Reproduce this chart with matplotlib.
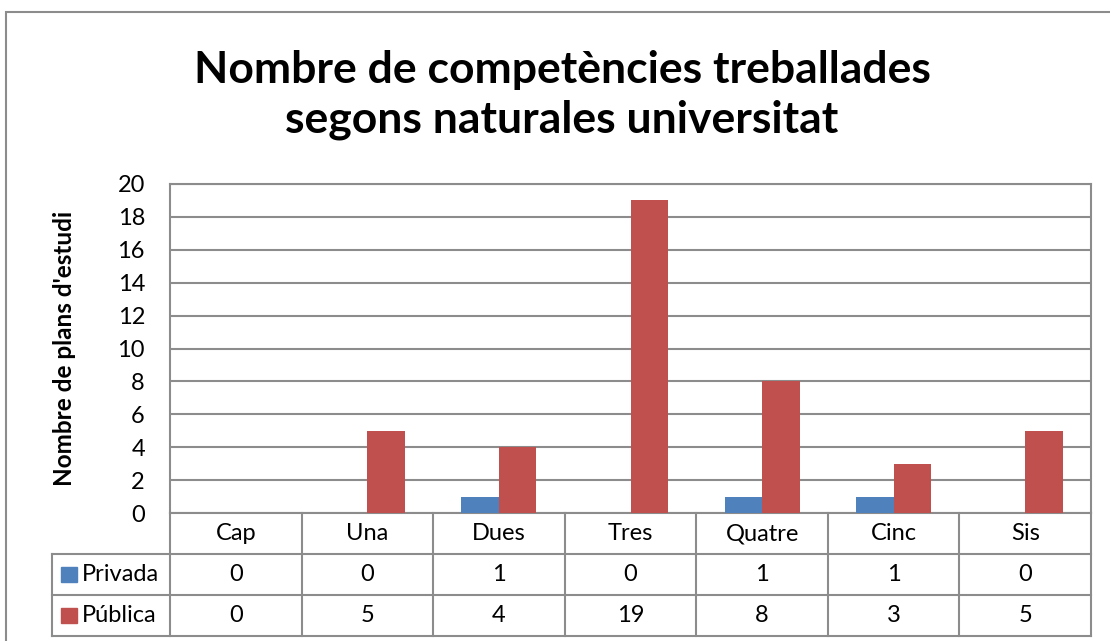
import matplotlib
matplotlib.use("Agg")
import matplotlib.pyplot as plt
from matplotlib.patches import Rectangle
import numpy as np

categories = ["Cap", "Una", "Dues", "Tres", "Quatre", "Cinc", "Sis"]
series_names = ["Privada", "Pública"]
privada = [0, 0, 1, 0, 1, 1, 0]
publica = [0, 5, 4, 19, 8, 3, 5]
colors = ["#4F81BD", "#C0504D"]
grid_col = "#8C8C8C"

plt.rcParams['font.family'] = ['Lato', 'DejaVu Sans']

W, H = 1110, 641
fig = plt.figure(figsize=(W / 100, H / 100), dpi=100)

def fx(px):
    return px / W

def fy(py):
    return 1 - py / H

# outer chart border
fig.patches.append(Rectangle((fx(6), fy(700)), fx(1200), fy(12) - fy(700),
                             transform=fig.transFigure, fill=False,
                             edgecolor=grid_col, lw=1.5))

left, right, top, bottom = 170, 1091, 184, 513
ax = fig.add_axes([fx(left), fy(bottom), fx(right - left), fy(top) - fy(bottom)])

x = np.arange(len(categories))
bw = 0.285
ax.bar(x - bw / 2, privada, bw, color=colors[0], zorder=3)
ax.bar(x + bw / 2, publica, bw, color=colors[1], zorder=3)

ax.set_xlim(-0.5, len(categories) - 0.5)
ax.set_ylim(0, 20)
ax.set_yticks(range(0, 21, 2))
ax.set_xticks([])
ax.tick_params(axis='y', length=0, labelsize=17, pad=18)
ax.yaxis.grid(True, color=grid_col, lw=1.5, zorder=0)
for s in ax.spines.values():
    s.set_color(grid_col)
    s.set_linewidth(1.5)
ax.set_ylabel("Nombre de plans d'estudi", fontsize=17.5, fontweight='bold', labelpad=30)

fig.text(fx(562), fy(95), "Nombre de competències treballades\nsegons naturales universitat",
         ha='center', va='center', fontsize=32, fontweight='bold', linespacing=1.3)

# data table below the plot, sharing the category scale
tbot = 636
tax = fig.add_axes([fx(left), fy(tbot), fx(right - left), fy(bottom) - fy(tbot)], sharex=ax)
tax.set_ylim(3, 0)
tax.axis('off')
unit = (right - left) / len(categories)
xl = -0.5 - (left - 52) / unit
lkw = dict(color=grid_col, lw=1.5, clip_on=False)
for b in np.arange(len(categories) + 1) - 0.5:
    tax.plot([b, b], [0, 3], **lkw)
tax.plot([xl, x[-1] + 0.5], [1, 1], **lkw)
tax.plot([xl, x[-1] + 0.5], [2, 2], **lkw)
tax.plot([xl, x[-1] + 0.5], [3, 3], **lkw)
tax.plot([xl, xl], [1, 3], **lkw)
for i, c in enumerate(categories):
    tax.text(i, 0.5, c, ha='center', va='center', fontsize=17)
for r, vals in enumerate([privada, publica]):
    for i, v in enumerate(vals):
        tax.text(i, r + 1.5, str(v), ha='center', va='center', fontsize=17)
    key_x = xl + 9 / unit
    tax.add_patch(Rectangle((key_x, r + 1.5 - 0.19), 16 / unit, 0.38,
                            color=colors[r], clip_on=False))
    tax.text(key_x + 21 / unit, r + 1.5, series_names[r], ha='left', va='center', fontsize=17)

fig.savefig("out.png", dpi=100)
